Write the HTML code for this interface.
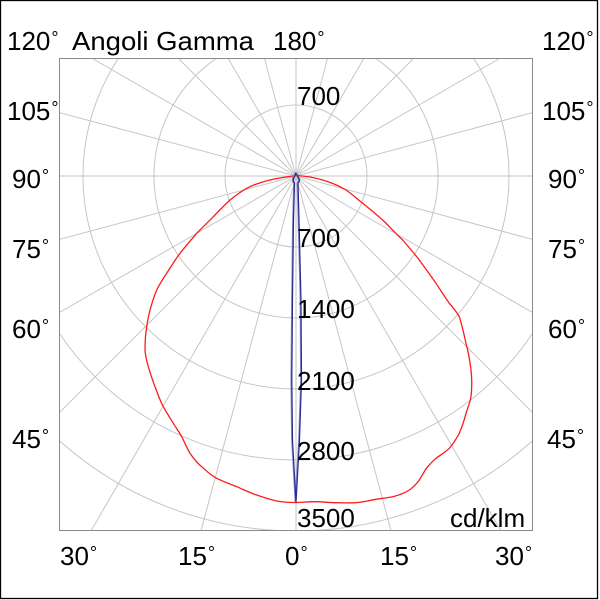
<!DOCTYPE html>
<html><head><meta charset="utf-8">
<style>
html,body{margin:0;padding:0;background:#fff;width:600px;height:600px;overflow:hidden;}
#wrap{width:600px;height:600px;overflow:hidden;position:relative;}
svg{display:block;overflow:hidden;}
text{font-family:"Liberation Sans",Arial,sans-serif;font-size:26px;fill:#000;}
</style></head>
<body>
<div id="wrap">
<svg width="600" height="600" viewBox="0 0 600 600" xmlns="http://www.w3.org/2000/svg">
<defs>
<clipPath id="box"><rect x="60" y="59" width="472" height="471"/></clipPath>
</defs>
<rect x="0" y="0" width="600" height="600" fill="#fff"/>
<rect x="0.5" y="0.5" width="597" height="598" fill="none" stroke="#000" stroke-width="1.3"/>

<g clip-path="url(#box)" stroke="#c6c6c6" stroke-width="1" fill="none">
  <circle cx="296" cy="176" r="71"/>
  <circle cx="296" cy="176" r="142"/>
  <circle cx="296" cy="176" r="213"/>
  <circle cx="296" cy="176" r="284"/>
  <circle cx="296" cy="176" r="355"/>
  <line x1="296" y1="176" x2="296" y2="531"/>
  <line x1="296" y1="176" x2="391.1" y2="531"/>
  <line x1="296" y1="176" x2="501" y2="531"/>
  <line x1="296" y1="176" x2="533" y2="413"/>
  <line x1="296" y1="176" x2="533" y2="312.8"/>
  <line x1="296" y1="176" x2="533" y2="239.5"/>
  <line x1="296" y1="176" x2="533" y2="176"/>
  <line x1="296" y1="176" x2="533" y2="112.5"/>
  <line x1="296" y1="176" x2="498.7" y2="59"/>
  <line x1="296" y1="176" x2="413" y2="59"/>
  <line x1="296" y1="176" x2="363.5" y2="59"/>
  <line x1="296" y1="176" x2="327.4" y2="59"/>
  <line x1="296" y1="176" x2="296" y2="59"/>
  <line x1="296" y1="176" x2="264.6" y2="59"/>
  <line x1="296" y1="176" x2="228.5" y2="59"/>
  <line x1="296" y1="176" x2="179" y2="59"/>
  <line x1="296" y1="176" x2="93.3" y2="59"/>
  <line x1="296" y1="176" x2="59" y2="112.5"/>
  <line x1="296" y1="176" x2="59" y2="176"/>
  <line x1="296" y1="176" x2="59" y2="239.5"/>
  <line x1="296" y1="176" x2="59" y2="312.8"/>
  <line x1="296" y1="176" x2="59" y2="413"/>
  <line x1="296" y1="176" x2="91" y2="531"/>
  <line x1="296" y1="176" x2="200.9" y2="531"/>
</g>
<rect x="59.5" y="58.5" width="473" height="472" fill="none" stroke="#8a8a8a" stroke-width="1"/>

<!-- red curve -->
<path fill="none" stroke="#ff1a1a" stroke-width="1.3" stroke-linejoin="round"
d="M296.5,175.5 C285,177 276,178.5 270,180 C260,182.5 253,185 246.7,188.3 C240,192 235,196 230,200 C224,205.5 219,211 213.3,216.7 C207,223 202,228 196.7,233.3 C190,241 185,247 180,253.3 C175,260 171,266.5 166.7,273.3 C162.5,279.5 159.5,284.5 156.7,290 C154,296 152,303 150,310 C148.5,316 147.5,321 146.7,326.7 C145.5,334 145,342 145,350 C145.5,356 146.8,361.5 148.3,366.7 C150.3,373.5 152.5,380 155,386.7 C157.5,393.5 160,400.5 163.3,406.7 C166.5,412.5 170,418 173.3,423.3 C176.5,428.5 179,432 181.7,436.7 C184.5,442 187,448.5 190,453.3 C193.5,458.5 197,463 201.7,466.7 C206.5,471 211,475.5 216.7,478.3 C223,481.5 230,484 236.7,486.7 C243.5,489.5 250,492.8 256.7,495 C263,497.2 270,499.5 276.7,501 C283,502.2 290,502.6 296.5,502.5 C303,502.3 309.5,501.6 316,501.7 C322.5,501.8 329,502.6 336,502.7 C342.5,502.8 349,503 356,502.7 C363,502.2 369.5,500.5 376,499.3 C381.5,498.4 387,497.9 392.7,496.7 C398.5,495.3 404.5,493.2 409.3,490 C413.5,487 416.5,484 419.3,480 C422.3,475.5 424.5,470.5 427.7,466.7 C430.3,463.6 433,461 436,458.3 C440.5,455 445.5,452 449.3,448.3 C453.5,443.5 456.5,438.5 459.3,433.3 C462,427 464.3,420 466,413.3 C468,407.5 470,402.5 471,396.7 C472,388 472,379 471,370 C470,361 468.3,352 466,343.3 C464,334.5 462,325 459.3,316.7 C456.5,311.5 452.8,307.5 449.3,303.3 C444.5,296.7 440.5,290 436,283.3 C430.5,275.5 425,267.8 419.3,260 C414,253.2 408.3,246.5 402.7,240 C396,233.8 389.5,226.5 382.7,220 C376,214.3 369.5,208.7 362.7,203.3 C357,198.8 352,194 346,190 C338.5,185.6 330.5,182.3 322.7,180 C313.5,177.3 305,176 296.5,175.5"/>

<!-- blue curve -->
<path fill="none" stroke="#8c8cd0" stroke-width="1.2" transform="translate(-0.8,0)"
d="M296,173.3 L293.3,179 L293.5,181.5 L294.5,183 L293.5,220 L292.5,300 L291.8,380 L292.5,440 L296,502.5 L299.5,440 L301.5,380 L301,300 L299,220 L298,183 L299.3,181.5 L299.3,179 Z"/>
<path fill="none" stroke="#2a2a8c" stroke-width="1.2"
d="M296,173.3 L293.3,179 L293.5,181.5 L294.5,183 L293.5,220 L292.5,300 L291.8,380 L292.5,440 L296,502.5 L299.5,440 L301.5,380 L301,300 L299,220 L298,183 L299.3,181.5 L299.3,179 Z"/>

<!-- top labels -->
<text x="7" y="50">120<tspan font-size="18" dx="1" dy="-6">°</tspan></text>
<text x="72" y="50" textLength="182" lengthAdjust="spacingAndGlyphs">Angoli Gamma</text>
<text x="273" y="50">180<tspan font-size="18" dx="1" dy="-6">°</tspan></text>
<text x="542" y="50">120<tspan font-size="18" dx="1" dy="-6">°</tspan></text>

<!-- left side -->
<text x="7" y="120">105<tspan font-size="18" dx="1" dy="-6">°</tspan></text>
<text x="12" y="188">90<tspan font-size="18" dx="1" dy="-6">°</tspan></text>
<text x="12" y="258">75<tspan font-size="18" dx="1" dy="-6">°</tspan></text>
<text x="12" y="338">60<tspan font-size="18" dx="1" dy="-6">°</tspan></text>
<text x="12" y="448">45<tspan font-size="18" dx="1" dy="-6">°</tspan></text>

<!-- right side -->
<text x="542" y="120">105<tspan font-size="18" dx="1" dy="-6">°</tspan></text>
<text x="548" y="188">90<tspan font-size="18" dx="1" dy="-6">°</tspan></text>
<text x="548" y="258">75<tspan font-size="18" dx="1" dy="-6">°</tspan></text>
<text x="548" y="338">60<tspan font-size="18" dx="1" dy="-6">°</tspan></text>
<text x="547" y="448">45<tspan font-size="18" dx="1" dy="-6">°</tspan></text>

<!-- bottom -->
<text x="60" y="565">30<tspan font-size="18" dx="1" dy="-6">°</tspan></text>
<text x="178" y="565">15<tspan font-size="18" dx="1" dy="-6">°</tspan></text>
<text x="285" y="565">0<tspan font-size="18" dx="1" dy="-6">°</tspan></text>
<text x="380" y="565">15<tspan font-size="18" dx="1" dy="-6">°</tspan></text>
<text x="495" y="565">30<tspan font-size="18" dx="1" dy="-6">°</tspan></text>

<!-- radial value labels -->
<text x="297" y="105">700</text>
<text x="297" y="247">700</text>
<text x="297" y="318">1400</text>
<text x="297" y="390">2100</text>
<text x="297" y="460">2800</text>
<text x="297" y="527">3500</text>
<text x="450" y="527">cd/klm</text>
</svg>
</div>
</body></html>
